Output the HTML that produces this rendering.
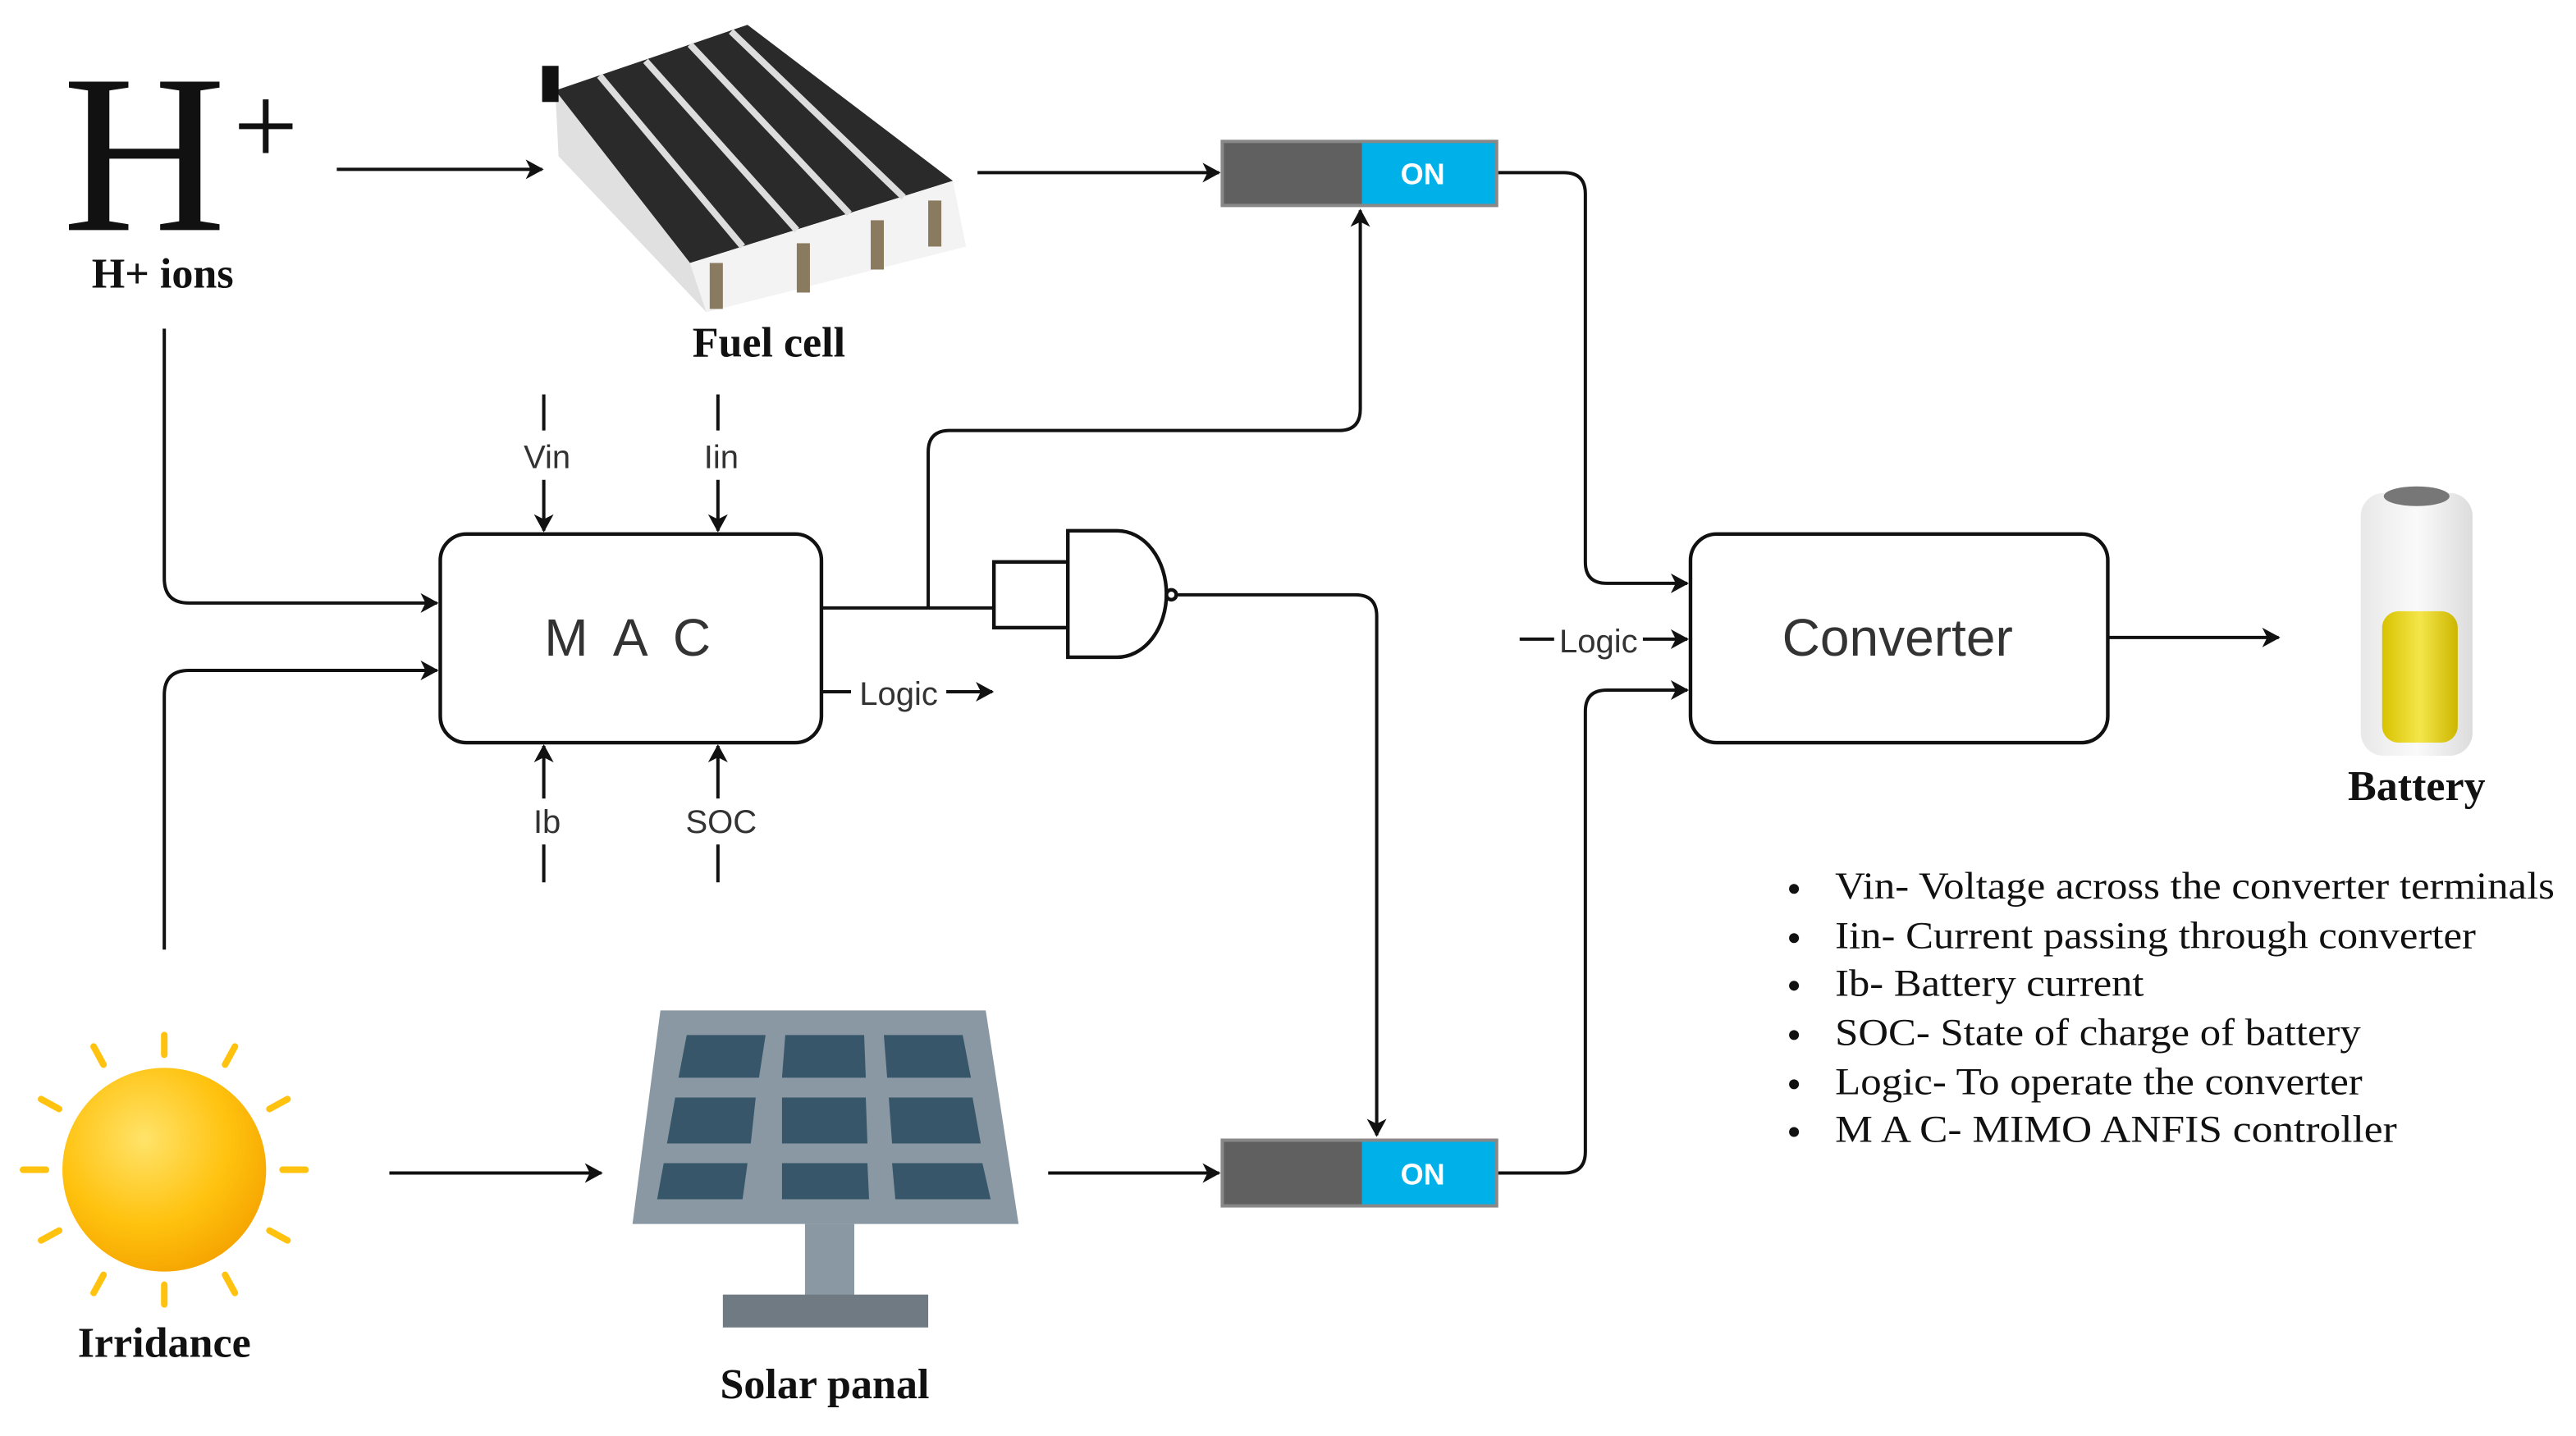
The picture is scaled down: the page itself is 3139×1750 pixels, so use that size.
<!DOCTYPE html>
<html><head><meta charset="utf-8"><style>html,body{margin:0;padding:0;background:#fff}svg{display:block}</style></head>
<body>
<svg width="3139" height="1750" viewBox="0 0 1568 874" xmlns="http://www.w3.org/2000/svg">
<defs>
<marker id="a" markerWidth="12" markerHeight="12" refX="10" refY="6" orient="auto" markerUnits="userSpaceOnUse">
<path d="M0,0 L11,6 L0,12 L3,6 Z" fill="#111"/></marker>
<radialGradient id="sun" cx="40%" cy="35%" r="70%"><stop offset="0" stop-color="#ffe36a"/><stop offset="0.6" stop-color="#ffc20e"/><stop offset="1" stop-color="#f5a300"/></radialGradient>
<linearGradient id="bat" x1="0" x2="1"><stop offset="0" stop-color="#e8e8e8"/><stop offset="0.5" stop-color="#fafafa"/><stop offset="1" stop-color="#dcdcdc"/></linearGradient>
<linearGradient id="liq" x1="0" x2="1"><stop offset="0" stop-color="#d8c200"/><stop offset="0.5" stop-color="#f4e64a"/><stop offset="1" stop-color="#cdb600"/></linearGradient>
</defs>
<g font-family="Liberation Serif, serif" fill="#111">
<text x="38" y="140" font-size="138">H</text>
<text x="142" y="100" font-size="70">+</text>
<text x="99" y="175" font-size="26" font-weight="bold" text-anchor="middle">H+ ions</text>
<text x="468" y="217" font-size="26" font-weight="bold" text-anchor="middle">Fuel cell</text>
<text x="1471" y="487" font-size="26" font-weight="bold" text-anchor="middle">Battery</text>
<text x="100" y="826" font-size="26" font-weight="bold" text-anchor="middle">Irridance</text>
<text x="502" y="851" font-size="26" font-weight="bold" text-anchor="middle">Solar panal</text>
<g font-size="23">
<circle cx="1092" cy="541" r="3"/><text x="1117" y="547" textLength="438" lengthAdjust="spacingAndGlyphs">Vin- Voltage across the converter terminals</text>
<circle cx="1092" cy="571" r="3"/><text x="1117" y="577" textLength="390" lengthAdjust="spacingAndGlyphs">Iin- Current passing through converter</text>
<circle cx="1092" cy="600" r="3"/><text x="1117" y="606" textLength="188" lengthAdjust="spacingAndGlyphs">Ib- Battery current</text>
<circle cx="1092" cy="630" r="3"/><text x="1117" y="636" textLength="320" lengthAdjust="spacingAndGlyphs">SOC- State of charge of battery</text>
<circle cx="1092" cy="660" r="3"/><text x="1117" y="666" textLength="321" lengthAdjust="spacingAndGlyphs">Logic- To operate the converter</text>
<circle cx="1092" cy="689" r="3"/><text x="1117" y="695" textLength="342" lengthAdjust="spacingAndGlyphs">M A C- MIMO ANFIS controller</text>
</g>
</g>
<!-- fuel cell -->
<g>
<polygon points="338,55 455,15 580,110 420,160" fill="#2a2a2a"/>
<polygon points="338,55 420,160 430,190 340,95" fill="#e0e0e0"/>
<polygon points="420,160 580,110 588,150 430,190" fill="#f3f3f3"/>
<g stroke="#ddd" stroke-width="4"><line x1="365" y1="46" x2="452" y2="150"/><line x1="393" y1="37" x2="485" y2="140"/><line x1="420" y1="27" x2="517" y2="130"/><line x1="445" y1="19" x2="550" y2="120"/></g>
<g fill="#8a7a60"><rect x="432" y="160" width="8" height="28"/><rect x="485" y="148" width="8" height="30"/><rect x="530" y="134" width="8" height="30"/><rect x="565" y="122" width="8" height="28"/></g>
<rect x="330" y="40" width="10" height="22" fill="#111"/>
</g>
<!-- sun -->
<g stroke="#ffc20e" stroke-width="4" stroke-linecap="round">
<line x1="100" y1="630" x2="100" y2="642"/><line x1="100" y1="782" x2="100" y2="794"/>
<line x1="14" y1="712" x2="28" y2="712"/><line x1="172" y1="712" x2="186" y2="712"/>
<line x1="57" y1="637" x2="63" y2="648"/><line x1="143" y1="637" x2="137" y2="648"/>
<line x1="57" y1="787" x2="63" y2="776"/><line x1="143" y1="787" x2="137" y2="776"/>
<line x1="25" y1="669" x2="36" y2="675"/><line x1="175" y1="669" x2="164" y2="675"/>
<line x1="25" y1="755" x2="36" y2="749"/><line x1="175" y1="755" x2="164" y2="749"/>
</g>
<circle cx="100" cy="712" r="62" fill="url(#sun)"/>
<!-- solar panel -->
<polygon points="402,615 600,615 620,745 385,745" fill="#8a98a3"/>
<g fill="#37566a">
<polygon points="418,630 466,630 462,656 413,656"/><polygon points="478,630 526,630 527,656 476,656"/><polygon points="538,630 586,630 591,656 540,656"/>
<polygon points="411,668 460,668 457,696 406,696"/><polygon points="476,668 527,668 528,696 476,696"/><polygon points="541,668 592,668 597,696 543,696"/>
<polygon points="404,708 455,708 452,730 400,730"/><polygon points="476,708 528,708 529,730 476,730"/><polygon points="543,708 598,708 603,730 545,730"/>
</g>
<rect x="490" y="745" width="30" height="45" fill="#8a98a3"/>
<rect x="440" y="788" width="125" height="20" fill="#6f7a82"/>
<!-- battery -->
<rect x="1437" y="300" width="68" height="160" rx="14" fill="url(#bat)"/>
<ellipse cx="1471" cy="302" rx="20" ry="6" fill="#777"/>
<rect x="1450" y="372" width="46" height="80" rx="10" fill="url(#liq)"/>
<!-- switches -->
<rect x="743" y="85" width="169" height="41" fill="#888"/>
<rect x="745" y="87" width="84" height="37" fill="#606060"/>
<rect x="829" y="87" width="81" height="37" fill="#00b0e8"/>
<text x="866" y="112" font-family="Liberation Sans, sans-serif" font-size="18" font-weight="bold" fill="#fff" text-anchor="middle">ON</text>
<rect x="743" y="693" width="169" height="42" fill="#888"/>
<rect x="745" y="695" width="84" height="38" fill="#606060"/>
<rect x="829" y="695" width="81" height="38" fill="#00b0e8"/>
<text x="866" y="721" font-family="Liberation Sans, sans-serif" font-size="18" font-weight="bold" fill="#fff" text-anchor="middle">ON</text>
<!-- boxes -->
<g fill="none" stroke="#111" stroke-width="2.2">
<rect x="268" y="325" width="232" height="127" rx="16"/>
<rect x="1029" y="325" width="254" height="127" rx="16"/>
<rect x="605" y="342" width="45" height="40"/>
<path d="M650,323 L680,323 A30,38.5 0 0 1 680,400 L650,400 Z" fill="#fff"/>
<circle cx="713" cy="362" r="3"/>
</g>
<g font-family="Liberation Sans, sans-serif" fill="#333">
<text x="384" y="399" font-size="32" text-anchor="middle" letter-spacing="4">M A C</text>
<text x="1155" y="399" font-size="32" text-anchor="middle">Converter</text>
<g font-size="20" text-anchor="middle">
<text x="333" y="285">Vin</text><text x="439" y="285">Iin</text>
<text x="333" y="507">Ib</text><text x="439" y="507">SOC</text>
<text x="547" y="429">Logic</text><text x="973" y="397">Logic</text>
</g>
</g>
<!-- connectors -->
<g fill="none" stroke="#111" stroke-width="2" marker-end="url(#a)">
<line x1="205" y1="103" x2="330" y2="103"/>
<line x1="595" y1="105" x2="742" y2="105"/>
<line x1="237" y1="714" x2="366" y2="714"/>
<line x1="638" y1="714" x2="742" y2="714"/>
<line x1="1283" y1="388" x2="1387" y2="388"/>
<path d="M331,240 V262 M331,292 V323"/>
<path d="M437,240 V262 M437,292 V323"/>
<path d="M331,537 V514 M331,486 V454"/>
<path d="M437,537 V514 M437,486 V454"/>
<path d="M100,200 V352 Q100,367 115,367 H266"/>
<path d="M100,578 V423 Q100,408 115,408 H266"/>
<path d="M565,370 V275 Q565,262 578,262 H815 Q828,262 828,249 V128"/>
<path d="M717,362 H825 Q838,362 838,375 V691"/>
<path d="M912,105 H952 Q965,105 965,118 V342 Q965,355 978,355 H1027"/>
<path d="M912,714 H952 Q965,714 965,701 V433 Q965,420 978,420 H1027"/>
<path d="M500,421 H518 M576,421 H604"/>
<path d="M925,389 H946 M1000,389 H1027"/>
</g>
<line x1="500" y1="370" x2="605" y2="370" stroke="#111" stroke-width="2"/>
</svg>
</body></html>
